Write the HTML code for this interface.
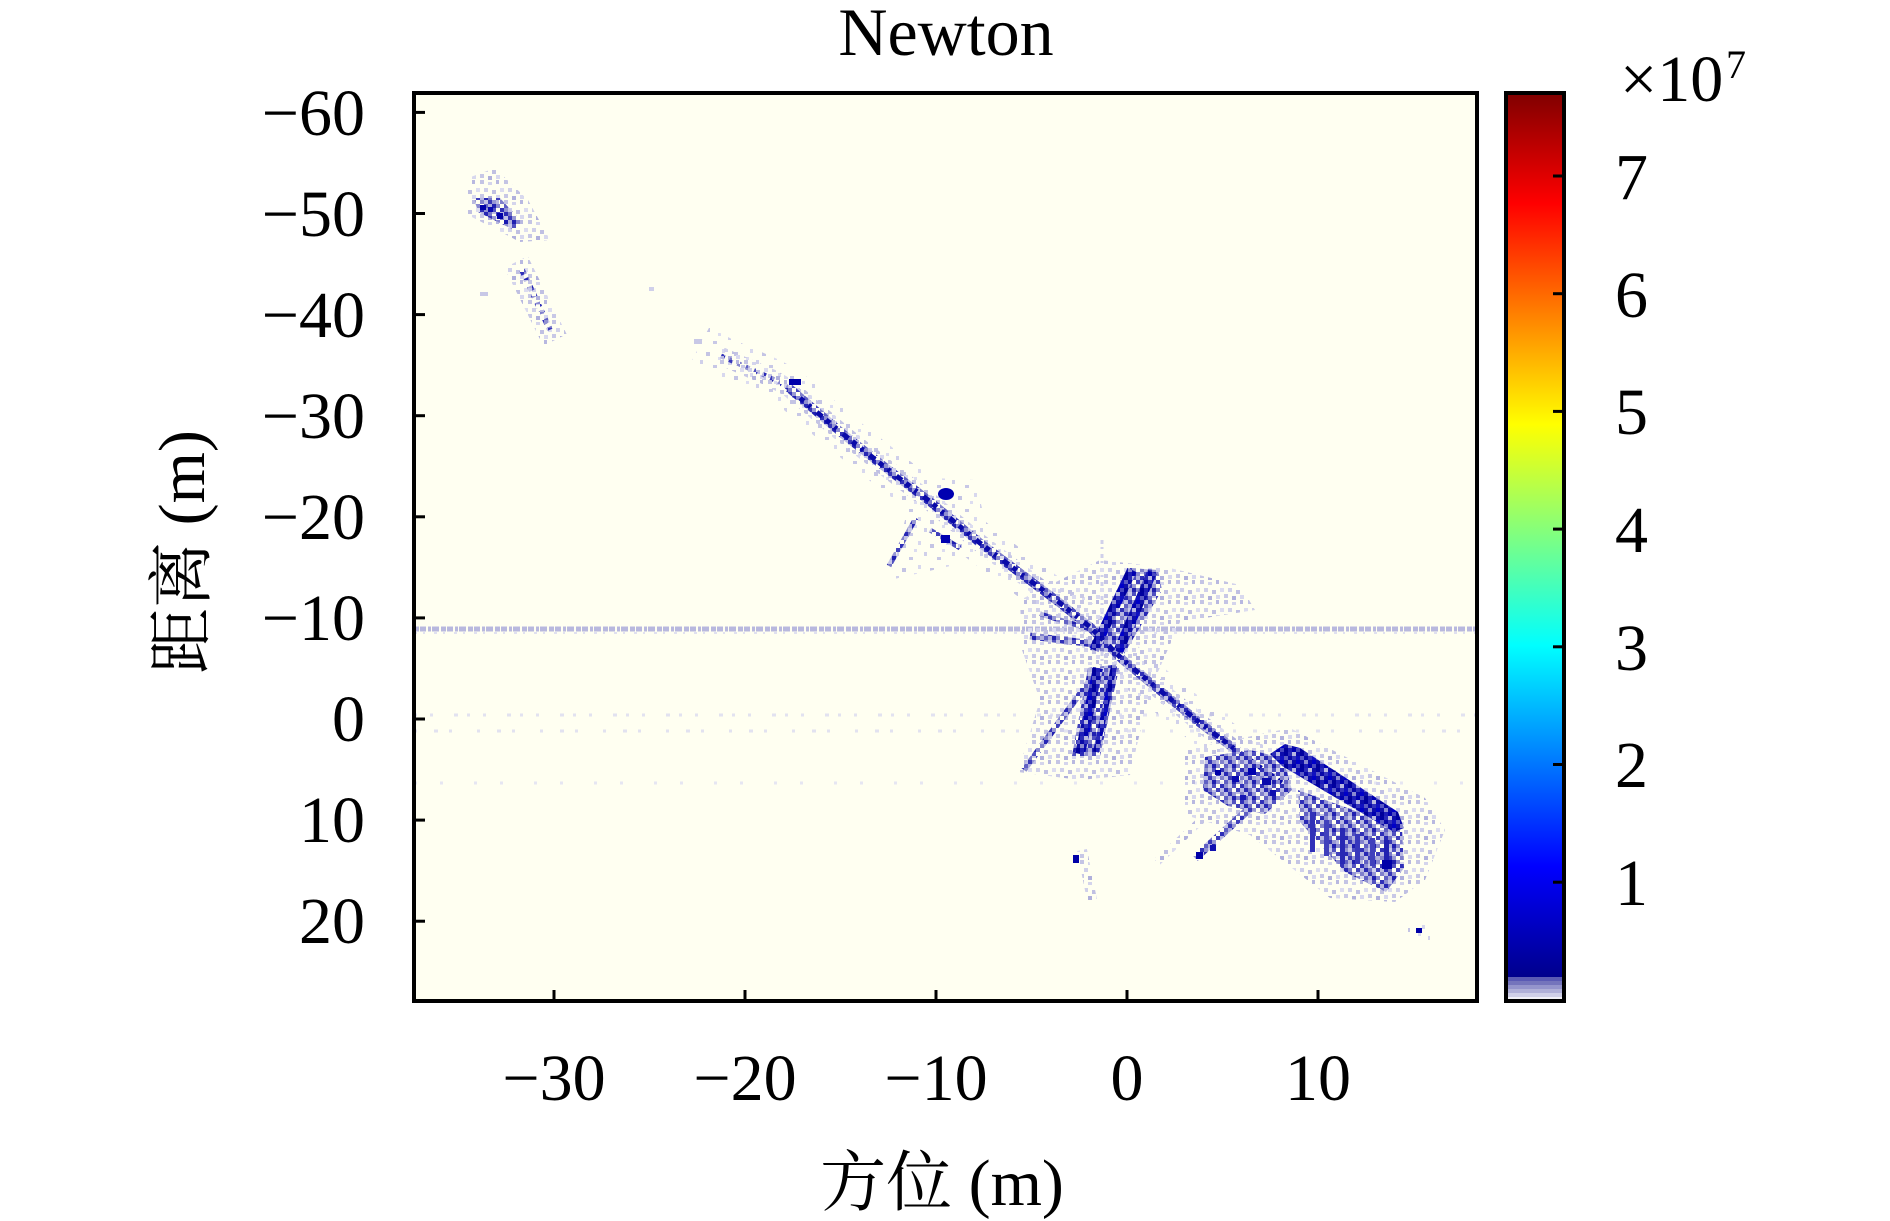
<!DOCTYPE html>
<html>
<head>
<meta charset="utf-8">
<style>
html,body{margin:0;padding:0;background:#ffffff;}
body{width:1890px;height:1221px;overflow:hidden;}
svg{display:block;}
text{font-family:"Liberation Serif","Noto Serif CJK SC",serif;fill:#000;}
</style>
</head>
<body>
<svg width="1890" height="1221" viewBox="0 0 1890 1221" xmlns="http://www.w3.org/2000/svg">
<defs>
  <clipPath id="plot"><rect x="414" y="93" width="1063" height="908"/></clipPath>
  <linearGradient id="jet" x1="0" y1="0" x2="0" y2="1">
    <stop offset="0" stop-color="#800000"/>
    <stop offset="0.1217" stop-color="#ff0000"/>
    <stop offset="0.2434" stop-color="#ff8000"/>
    <stop offset="0.3651" stop-color="#ffff00"/>
    <stop offset="0.4868" stop-color="#80ff80"/>
    <stop offset="0.6085" stop-color="#00ffff"/>
    <stop offset="0.7302" stop-color="#0080ff"/>
    <stop offset="0.8519" stop-color="#0000ff"/>
    <stop offset="0.9736" stop-color="#00008c"/>
    <stop offset="0.9736" stop-color="#5a5ab4"/>
    <stop offset="0.978" stop-color="#5a5ab4"/>
    <stop offset="0.978" stop-color="#7474bc"/>
    <stop offset="0.9824" stop-color="#7474bc"/>
    <stop offset="0.9824" stop-color="#9494cc"/>
    <stop offset="0.9868" stop-color="#9494cc"/>
    <stop offset="0.9868" stop-color="#b0b0d8"/>
    <stop offset="0.9912" stop-color="#b0b0d8"/>
    <stop offset="0.9912" stop-color="#d0d0e8"/>
    <stop offset="0.9956" stop-color="#d0d0e8"/>
    <stop offset="0.9956" stop-color="#f0f0f6"/>
    <stop offset="1" stop-color="#f0f0f6"/>
  </linearGradient>
  <pattern id="lt" width="24" height="20" patternUnits="userSpaceOnUse">
    <rect x="0" y="0" width="4" height="4" fill="#c4c4e4"/>
    <rect x="8" y="2" width="4" height="3" fill="#d4d4ec"/>
    <rect x="16" y="0" width="3" height="4" fill="#b8b8e0"/>
    <rect x="4" y="8" width="4" height="4" fill="#d0d0ea"/>
    <rect x="12" y="10" width="4" height="4" fill="#c0c0e2"/>
    <rect x="20" y="8" width="4" height="4" fill="#dcdcf0"/>
    <rect x="0" y="14" width="4" height="4" fill="#c8c8e6"/>
    <rect x="8" y="16" width="4" height="4" fill="#b0b0dc"/>
    <rect x="16" y="15" width="4" height="4" fill="#d8d8ee"/>
  </pattern>
  <pattern id="lt2" width="28" height="24" patternUnits="userSpaceOnUse">
    <rect x="0" y="0" width="3" height="4" fill="#d0d0ea"/>
    <rect x="13" y="5" width="4" height="3" fill="#c8c8e6"/>
    <rect x="22" y="13" width="3" height="4" fill="#d8d8ee"/>
    <rect x="6" y="16" width="4" height="4" fill="#c4c4e4"/>
    <rect x="18" y="21" width="3" height="3" fill="#dcdcf0"/>
  </pattern>
  <pattern id="md" width="20" height="16" patternUnits="userSpaceOnUse">
    <rect x="0" y="0" width="4" height="4" fill="#3030b8"/>
    <rect x="4" y="0" width="4" height="4" fill="#9090d0"/>
    <rect x="8" y="0" width="4" height="4" fill="#c8c8e8"/>
    <rect x="12" y="0" width="4" height="4" fill="#5050c0"/>
    <rect x="0" y="4" width="4" height="4" fill="#b8b8e0"/>
    <rect x="4" y="4" width="4" height="4" fill="#2828b4"/>
    <rect x="8" y="4" width="4" height="4" fill="#7878c8"/>
    <rect x="16" y="4" width="4" height="4" fill="#4040bc"/>
    <rect x="0" y="8" width="4" height="4" fill="#8080cc"/>
    <rect x="4" y="8" width="4" height="4" fill="#c0c0e4"/>
    <rect x="8" y="8" width="4" height="4" fill="#3838b8"/>
    <rect x="12" y="8" width="4" height="4" fill="#9898d4"/>
    <rect x="4" y="12" width="4" height="4" fill="#6060c4"/>
    <rect x="8" y="12" width="4" height="4" fill="#b0b0dc"/>
    <rect x="12" y="12" width="4" height="4" fill="#2020b0"/>
    <rect x="16" y="12" width="4" height="4" fill="#8888d0"/>
  </pattern>
  <pattern id="dk" width="16" height="16" patternUnits="userSpaceOnUse">
    <rect x="0" y="0" width="4" height="4" fill="#0c0cac"/>
    <rect x="4" y="0" width="4" height="4" fill="#0000a0"/>
    <rect x="8" y="0" width="4" height="4" fill="#2a2ab8"/>
    <rect x="12" y="0" width="4" height="4" fill="#b8b8e0"/>
    <rect x="0" y="4" width="4" height="4" fill="#1010c0"/>
    <rect x="4" y="4" width="4" height="4" fill="#5a5ac4"/>
    <rect x="8" y="4" width="4" height="4" fill="#0808a8"/>
    <rect x="12" y="4" width="4" height="4" fill="#3434bc"/>
    <rect x="0" y="8" width="4" height="4" fill="#0000c8"/>
    <rect x="4" y="8" width="4" height="4" fill="#1010a8"/>
    <rect x="8" y="8" width="4" height="4" fill="#8a8ad0"/>
    <rect x="12" y="8" width="4" height="4" fill="#0c0cac"/>
    <rect x="0" y="12" width="4" height="4" fill="#4848c0"/>
    <rect x="4" y="12" width="4" height="4" fill="#00009a"/>
    <rect x="8" y="12" width="4" height="4" fill="#1e1eb8"/>
    <rect x="12" y="12" width="4" height="4" fill="#0000b0"/>
  </pattern>
</defs>

<rect x="414" y="93" width="1063" height="908" fill="#fffff1"/>

<g clip-path="url(#plot)">
  <line x1="414" y1="715" x2="1477" y2="715" stroke="#e2e2f0" stroke-width="3" stroke-dasharray="3 13 3 21 4 9"/>
  <line x1="414" y1="731" x2="1477" y2="731" stroke="#e2e2f0" stroke-width="3" stroke-dasharray="3 17 4 11 3 25"/>
  <line x1="414" y1="783" x2="1477" y2="783" stroke="#e6e6f2" stroke-width="3" stroke-dasharray="3 23 3 31"/>
  <line x1="414" y1="629" x2="1477" y2="629" stroke="#b8b8de" stroke-width="5" stroke-dasharray="5 1 6 2 3 1 7 2"/>
  <line x1="414" y1="633" x2="1477" y2="633" stroke="#e0e0f0" stroke-width="2" stroke-dasharray="3 6 2 9"/>
  <line x1="1102" y1="540" x2="1102" y2="750" stroke="#d0d0ea" stroke-width="3" stroke-dasharray="4 3 2 5"/>

  <polygon points="468,178 495,168 528,200 550,240 520,242 468,215" fill="url(#lt)"/>
  <line x1="516" y1="262" x2="555" y2="340" stroke="url(#lt)" stroke-width="26"/>
  <line x1="522" y1="270" x2="552" y2="334" stroke="url(#md)" stroke-width="6" stroke-dasharray="5 4 3 6"/>
  <rect x="480" y="292" width="8" height="4" fill="#c8c8e6"/>
  <rect x="649" y="287" width="5" height="4" fill="#d0d0ea"/>
  <rect x="694" y="339" width="8" height="5" fill="#c8c8e6"/>
  <polyline points="700,345 721,356 771,378 789,388 843,434 886,468 928,500 980,543 1020,573 1060,603 1090,627 1123,660 1163,693 1200,723 1240,753 1285,785" fill="none" stroke="url(#lt2)" stroke-width="40"/>
  <polyline points="721,356 771,378 789,388 843,434 886,468 928,500 980,543 1020,573 1060,603 1090,627 1123,660 1163,693 1200,723 1240,753 1285,785" fill="none" stroke="url(#lt)" stroke-width="18"/>
  <polygon points="895,476 975,480 985,520 955,565 890,580 905,520" fill="url(#lt2)"/>
  <polygon points="1020,600 1100,560 1170,568 1240,585 1255,610 1180,622 1150,690 1130,775 1080,780 1018,772 1040,700 1022,650" fill="url(#lt)"/>
  <polygon points="1185,750 1290,728 1425,798 1445,830 1425,880 1395,902 1330,898 1250,835 1185,815" fill="url(#lt)"/>
  <line x1="1082" y1="850" x2="1092" y2="900" stroke="url(#lt)" stroke-width="10"/>
  <rect x="1408" y="920" width="22" height="20" fill="url(#lt2)"/>

  <polygon points="474,198 500,198 522,222 514,230 478,212" fill="url(#md)"/>
  <polyline points="789,388 843,434 886,468 928,500 980,543 1020,573 1060,603 1090,627 1123,660 1163,693 1200,723 1240,753 1285,785" fill="none" stroke="url(#md)" stroke-width="9"/>
  <polyline points="721,356 771,378 789,388" fill="none" stroke="url(#md)" stroke-width="5" stroke-dasharray="4 5"/>
  <line x1="1024" y1="770" x2="1090" y2="680" stroke="url(#md)" stroke-width="6"/>
  <line x1="1157" y1="862" x2="1253" y2="771" stroke="url(#lt)" stroke-width="8"/>
  <line x1="1195" y1="858" x2="1278" y2="783" stroke="url(#md)" stroke-width="8"/>
  <line x1="1030" y1="636" x2="1102" y2="645" stroke="url(#md)" stroke-width="7"/>
  <line x1="1040" y1="614" x2="1100" y2="632" stroke="url(#md)" stroke-width="5"/>
  <line x1="916" y1="518" x2="889" y2="566" stroke="url(#md)" stroke-width="5"/>
  <line x1="930" y1="530" x2="960" y2="548" stroke="url(#md)" stroke-width="5"/>
  <polygon points="1160,575 1215,585 1225,600 1165,602" fill="url(#lt)"/>

  <polygon points="1130,568 1158,570 1162,590 1124,654 1090,650" fill="url(#md)"/>
  <line x1="1132" y1="570" x2="1094" y2="650" stroke="url(#dk)" stroke-width="10"/>
  <line x1="1152" y1="572" x2="1118" y2="652" stroke="url(#dk)" stroke-width="10"/>
  <polygon points="1088,668 1120,664 1100,756 1072,756" fill="url(#md)"/>
  <line x1="1098" y1="668" x2="1080" y2="754" stroke="url(#dk)" stroke-width="10"/>
  <line x1="1114" y1="666" x2="1096" y2="752" stroke="url(#dk)" stroke-width="6"/>

  <polyline points="800,398 843,434 886,468 928,500 980,543 1020,573 1060,603 1090,627 1123,660 1163,693 1200,723 1240,753 1285,785" fill="none" stroke="#0a0aa8" stroke-width="5" stroke-dasharray="5 6 3 8 7 5"/>

  <!-- lower right blob -->
  <polygon points="1205,757 1250,750 1283,758 1292,790 1265,814 1228,806 1203,790" fill="url(#md)"/>
  <polygon points="1298,790 1402,828 1404,868 1386,892 1345,872 1300,822" fill="url(#md)"/>
  <polygon points="1285,744 1300,748 1398,812 1404,828 1394,832 1282,766 1270,754" fill="url(#dk)"/>
  <rect x="1215" y="770" width="6" height="5" fill="#0000a8"/>
  <rect x="1232" y="776" width="7" height="6" fill="#0808b0"/>
  <rect x="1248" y="768" width="8" height="7" fill="#0000b0"/>
  <rect x="1262" y="778" width="9" height="7" fill="#0a0aac"/>
  <rect x="1270" y="790" width="6" height="6" fill="#1010b0"/>
  <rect x="1240" y="795" width="6" height="5" fill="#1818b4"/>
  <rect x="1310" y="812" width="5" height="40" fill="#3030b8"/>
  <rect x="1324" y="820" width="5" height="36" fill="#4040bc"/>
  <rect x="1340" y="828" width="5" height="36" fill="#2828b4"/>
  <rect x="1355" y="834" width="5" height="30" fill="#3838bc"/>
  <rect x="1370" y="838" width="5" height="28" fill="#4040bc"/>
  <rect x="1384" y="840" width="5" height="22" fill="#2020b0"/>
  <rect x="1382" y="860" width="10" height="9" fill="#0000a8"/>
  <rect x="1196" y="852" width="7" height="7" fill="#0000a8"/>
  <rect x="1210" y="845" width="6" height="6" fill="#1010b0"/>

  <rect x="789" y="379" width="12" height="6" fill="#0000aa"/>
  <ellipse cx="946" cy="494" rx="8" ry="6" fill="#0000b0"/>
  <rect x="941" y="535" width="9" height="8" fill="#0000b0"/>
  <rect x="480" y="205" width="6" height="5" fill="#0000a8"/>
  <rect x="488" y="207" width="5" height="5" fill="#0808b0"/>
  <rect x="497" y="213" width="6" height="6" fill="#0000a8"/>
  <rect x="504" y="220" width="4" height="4" fill="#1818b0"/>
  <rect x="1073" y="855" width="6" height="8" fill="#0000a8"/>
  <rect x="1416" y="928" width="6" height="5" fill="#0000a8"/>
</g>

<rect x="414" y="93" width="1063" height="908" fill="none" stroke="#000" stroke-width="4"/>
<g stroke="#000" stroke-width="3">
  <line x1="414" y1="112.4" x2="425" y2="112.4"/>
  <line x1="414" y1="213.5" x2="425" y2="213.5"/>
  <line x1="414" y1="314.6" x2="425" y2="314.6"/>
  <line x1="414" y1="415.7" x2="425" y2="415.7"/>
  <line x1="414" y1="516.8" x2="425" y2="516.8"/>
  <line x1="414" y1="617.9" x2="425" y2="617.9"/>
  <line x1="414" y1="719" x2="425" y2="719"/>
  <line x1="414" y1="820.1" x2="425" y2="820.1"/>
  <line x1="414" y1="921.2" x2="425" y2="921.2"/>
  <line x1="554" y1="1001" x2="554" y2="990"/>
  <line x1="745" y1="1001" x2="745" y2="990"/>
  <line x1="936" y1="1001" x2="936" y2="990"/>
  <line x1="1127" y1="1001" x2="1127" y2="990"/>
  <line x1="1318" y1="1001" x2="1318" y2="990"/>
</g>

<g font-size="66" text-anchor="end">
  <text x="365" y="135">−60</text>
  <text x="365" y="236">−50</text>
  <text x="365" y="337">−40</text>
  <text x="365" y="438">−30</text>
  <text x="365" y="539">−20</text>
  <text x="365" y="640">−10</text>
  <text x="365" y="741">0</text>
  <text x="365" y="842">10</text>
  <text x="365" y="943">20</text>
</g>
<g font-size="66" text-anchor="middle">
  <text x="554" y="1100">−30</text>
  <text x="745" y="1100">−20</text>
  <text x="936" y="1100">−10</text>
  <text x="1127" y="1100">0</text>
  <text x="1318" y="1100">10</text>
</g>

<text x="946" y="55" font-size="68" text-anchor="middle">Newton</text>
<text x="942" y="1205" font-size="66" text-anchor="middle">方位 (m)</text>
<text transform="translate(204,552) rotate(-90)" font-size="66" text-anchor="middle">距离 (m)</text>

<rect x="1506" y="93" width="58" height="908" fill="url(#jet)" stroke="#000" stroke-width="4"/>
<g stroke="#000" stroke-width="3">
  <line x1="1553" y1="176" x2="1564" y2="176"/>
  <line x1="1553" y1="293.7" x2="1564" y2="293.7"/>
  <line x1="1553" y1="411.4" x2="1564" y2="411.4"/>
  <line x1="1553" y1="529.1" x2="1564" y2="529.1"/>
  <line x1="1553" y1="646.8" x2="1564" y2="646.8"/>
  <line x1="1553" y1="764.5" x2="1564" y2="764.5"/>
  <line x1="1553" y1="882.2" x2="1564" y2="882.2"/>
</g>
<g font-size="66">
  <text x="1615" y="199">7</text>
  <text x="1615" y="317">6</text>
  <text x="1615" y="434">5</text>
  <text x="1615" y="552">4</text>
  <text x="1615" y="670">3</text>
  <text x="1615" y="787">2</text>
  <text x="1615" y="905">1</text>
</g>
<text x="1620" y="101" font-size="66">×10</text>
<text x="1726" y="78" font-size="40">7</text>
</svg>
</body>
</html>
